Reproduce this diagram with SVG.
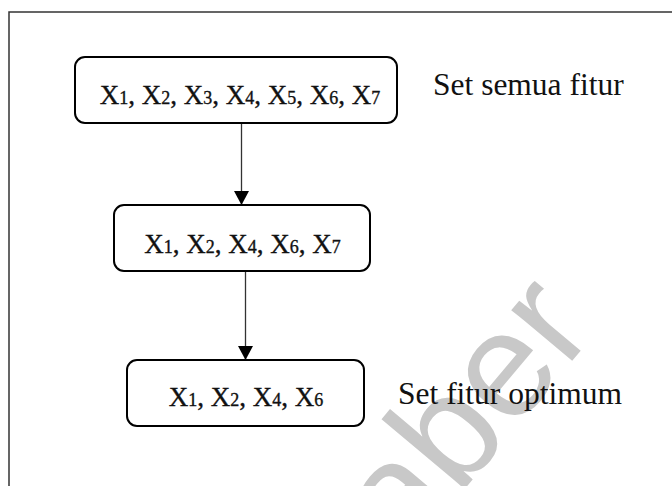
<svg xmlns="http://www.w3.org/2000/svg" width="672" height="486" viewBox="0 0 672 486">
  <style>
    .box { fill: #ffffff; stroke: #000000; stroke-width: 2; }
    .lbl { font-family: "Liberation Serif", "Times New Roman", serif; font-size: 27px; fill: #111111; stroke: #111111; stroke-width: 0.35; text-anchor: middle; }
    .sub { font-size: 18px; }
    .side { font-family: "Liberation Serif", "Times New Roman", serif; font-size: 31.5px; fill: #111111; }
    .conn { stroke: #333333; stroke-width: 1.3; fill: none; }
    .wm { font-family: "Liberation Sans", Arial, sans-serif; font-size: 150px; fill: #c8c8c8; }
  </style>
  <defs>
    <marker id="arrow" markerUnits="userSpaceOnUse" markerWidth="15" markerHeight="15" refX="14" refY="7.5" orient="auto" viewBox="0 0 15 15">
      <path d="M0,0 L14,7.5 L0,15 Z" fill="#000000"/>
    </marker>
  </defs>
  <rect x="0" y="0" width="672" height="486" fill="#ffffff"/>
  <text class="wm" transform="translate(458 497) rotate(-50)" x="-83" y="0">aber</text>
  <rect x="9" y="12" width="700" height="500" fill="none" stroke="#333333" stroke-width="1.5"/>

  <g id="connectors">
    <line class="conn" x1="241.5" y1="123" x2="241.5" y2="205" marker-end="url(#arrow)"/>
    <line class="conn" x1="245.5" y1="271" x2="245.5" y2="360" marker-end="url(#arrow)"/>
  </g>

  <g id="node1">
    <rect class="box" x="75" y="57" width="322" height="66" rx="10"/>
    <text class="lbl" x="240" y="104">X<tspan class="sub">1</tspan>, X<tspan class="sub">2</tspan>, X<tspan class="sub">3</tspan>, X<tspan class="sub">4</tspan>, X<tspan class="sub">5</tspan>, X<tspan class="sub">6</tspan>, X<tspan class="sub">7</tspan></text>
  </g>
  <g id="node2">
    <rect class="box" x="114" y="205" width="256" height="66" rx="10"/>
    <text class="lbl" x="242.5" y="253">X<tspan class="sub">1</tspan>, X<tspan class="sub">2</tspan>, X<tspan class="sub">4</tspan>, X<tspan class="sub">6</tspan>, X<tspan class="sub">7</tspan></text>
  </g>
  <g id="node3">
    <rect class="box" x="127" y="360" width="237" height="66" rx="10"/>
    <text class="lbl" x="246" y="406">X<tspan class="sub">1</tspan>, X<tspan class="sub">2</tspan>, X<tspan class="sub">4</tspan>, X<tspan class="sub">6</tspan></text>
  </g>
  <g id="label-all">
    <text class="side" x="433" y="95">Set semua fitur</text>
  </g>
  <g id="label-opt">
    <text class="side" x="398" y="404">Set fitur optimum</text>
  </g>
</svg>
